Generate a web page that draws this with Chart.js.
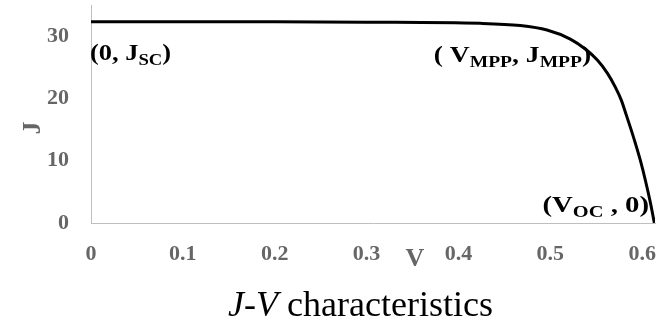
<!DOCTYPE html>
<html>
<head>
<meta charset="utf-8">
<script src="https://cdn.jsdelivr.net/npm/chart.js@4/dist/chart.umd.min.js"></script>
<style>
  html, body { margin: 0; padding: 0; background: #ffffff; }
  #c { display: block; }
</style>
</head>
<body>
<canvas id="c" width="659" height="321"></canvas>
<script>
// Photovoltaic J-V curve: voltage (V) against current density (J)
const voltage = [0, 0.1, 0.2, 0.3, 0.4237, 0.4673, 0.4964, 0.5218, 0.5381, 0.5512, 0.5621,
                 0.5708, 0.5773, 0.5828, 0.5871, 0.5926, 0.5980, 0.6035, 0.6089, 0.6133];
const currentDensity = [32.3, 32.3, 32.3, 32.25, 32.06, 31.7, 30.98, 29.53, 27.93, 26.16, 24.07,
                        21.82, 19.73, 17.32, 15.39, 12.81, 10.08, 6.86, 3.33, 0];

const xTickValues = [0, 0.1, 0.2, 0.3, 0.4, 0.5, 0.6];
const yTickValues = [0, 10, 20, 30];

const AXIS_GREY = '#666666';
const SERIF = "'Liberation Serif', 'Times New Roman', serif";

// Draws a run of [text, isSubscript] pieces, optionally right-aligned at x
function drawRich(ctx, pieces, x, y, size, align, stretch) {
  const subSize = Math.round(size * 0.7);
  const widthOf = p => {
    ctx.font = `bold ${p[1] ? subSize : size}px ${SERIF}`;
    return ctx.measureText(p[0]).width * stretch;
  };
  const total = pieces.reduce((s, p) => s + widthOf(p), 0);
  let cx = align === 'right' ? x - total : x;
  pieces.forEach(p => {
    const w = widthOf(p);
    ctx.save();
    ctx.translate(cx, p[1] ? y + size * 0.22 : y);
    ctx.scale(stretch, 1);
    ctx.fillText(p[0], 0, 0);
    ctx.restore();
    cx += w;
  });
}

const decorations = {
  id: 'decorations',
  afterDatasetsDraw(chart) {
    const ctx = chart.ctx;
    const xs = chart.scales.x, ys = chart.scales.y;
    ctx.save();
    ctx.textBaseline = 'alphabetic';
    ctx.textAlign = 'left';
    ctx.fillStyle = '#000000';

    // key points on the curve
    drawRich(ctx, [['(0, J', false], ['SC', true], [')', false]],
      xs.getPixelForValue(0) - 1, ys.getPixelForValue(26.2), 24, 'left', 1.1);
    drawRich(ctx, [['( V', false], ['MPP', true], [', J', false], ['MPP', true], [')', false]],
      xs.getPixelForValue(0.5445), ys.getPixelForValue(25.9), 24, 'right', 1.15);
    drawRich(ctx, [['(V', false], ['OC', true], [' , 0)', false]],
      xs.getPixelForValue(0.6075), ys.getPixelForValue(1.8), 24, 'right', 1.2);

    // axis titles
    ctx.fillStyle = AXIS_GREY;
    ctx.font = `bold 26px ${SERIF}`;
    ctx.textAlign = 'center';
    ctx.fillText('V', 415, 266);

    ctx.save();
    ctx.translate(40, 128);
    ctx.rotate(-Math.PI / 2);
    ctx.font = `bold 26px ${SERIF}`;
    ctx.textAlign = 'center';
    ctx.fillText('J', 0, 0);
    ctx.restore();

    // caption
    ctx.fillStyle = '#000000';
    ctx.textAlign = 'left';
    const partA = 'J-V', partB = ' characteristics';
    ctx.font = `italic 36px ${SERIF}`;
    const wa = ctx.measureText(partA).width;
    ctx.font = `36px ${SERIF}`;
    const wb = ctx.measureText(partB).width;
    const tx = 360.5 - (wa + wb) / 2;
    ctx.font = `italic 36px ${SERIF}`;
    ctx.fillText(partA, tx, 316);
    ctx.font = `36px ${SERIF}`;
    ctx.fillText(partB, tx + wa, 316);
    ctx.restore();
  }
};

const tickFont = { family: SERIF, size: 22, weight: 'bold' };

new Chart(document.getElementById('c'), {
  type: 'scatter',
  data: {
    datasets: [{
      data: voltage.map((v, i) => ({ x: v, y: currentDensity[i] })),
      showLine: true,
      borderColor: '#000000',
      borderWidth: 3,
      pointRadius: 0,
      cubicInterpolationMode: 'monotone',
      fill: false
    }]
  },
  options: {
    responsive: false,
    devicePixelRatio: 1,
    animation: false,
    layout: { padding: { top: 5, right: 4, left: 0, bottom: 0 } },
    plugins: { legend: { display: false }, tooltip: { enabled: false }, title: { display: false } },
    scales: {
      x: {
        type: 'linear',
        min: 0,
        max: 0.614,
        afterBuildTicks: s => { s.ticks = xTickValues.map(v => ({ value: v })); },
        afterFit: s => { s.height = 98; s.paddingLeft = 0; s.paddingRight = 0; },
        grid: { display: false, drawTicks: false },
        border: { display: true, color: '#bfbfbf', width: 1 },
        ticks: {
          font: tickFont, color: AXIS_GREY, padding: 18,
          autoSkip: false, maxRotation: 0,
          callback: v => (v === 0 ? '0' : v.toFixed(1))
        }
      },
      y: {
        type: 'linear',
        min: 0,
        max: 35,
        afterBuildTicks: s => { s.ticks = yTickValues.map(v => ({ value: v })); },
        afterFit: s => { s.width = 91; s.paddingTop = 0; s.paddingBottom = 0; },
        grid: { display: false, drawTicks: false },
        border: { display: true, color: '#bfbfbf', width: 1 },
        ticks: { font: tickFont, color: AXIS_GREY, padding: 22 }
      }
    }
  },
  plugins: [decorations]
});
</script>
</body>
</html>
